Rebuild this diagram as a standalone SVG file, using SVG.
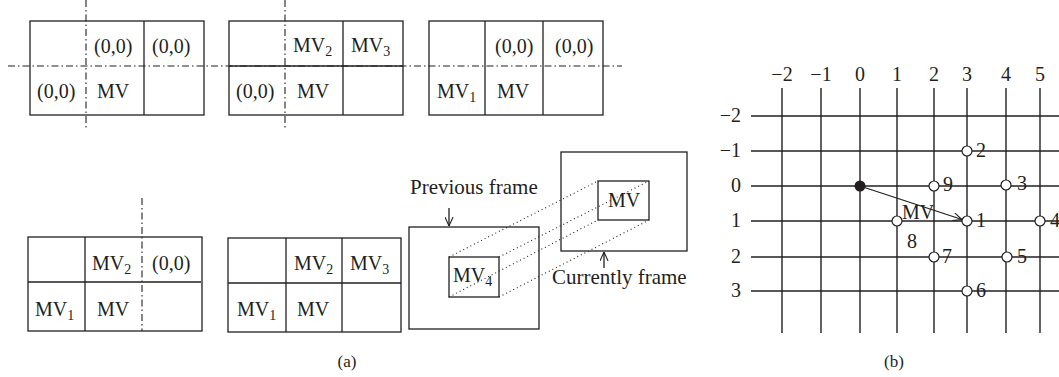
<svg xmlns="http://www.w3.org/2000/svg" width="1059" height="377" viewBox="0 0 1059 377">
<style>
.t{font-family:"Liberation Serif","Times New Roman",serif;font-size:20px;fill:#231f20}
.s{font-size:14px}
.f{font-size:21px}
.c{font-size:17px}
.ln{stroke:#231f20;stroke-width:1.3;fill:none}
.g{stroke:#231f20;stroke-width:1.4;fill:none}
.dd{stroke:#231f20;stroke-width:1.1;fill:none;stroke-dasharray:7 3 1.5 3}
.dot{stroke:#231f20;stroke-width:1.1;fill:none;stroke-dasharray:1 3}
.pt{fill:#fff;stroke:#231f20;stroke-width:1.2}
</style>
<defs>
<marker id="ah" viewBox="0 0 10 10" refX="10" refY="5" markerWidth="9" markerHeight="9" markerUnits="userSpaceOnUse" orient="auto">
<path d="M0,0.5 L10,5 L0,9.5" fill="none" stroke="#231f20" stroke-width="1.2"/>
</marker>
</defs>
<rect width="1059" height="377" fill="#fff"/>

<g id="guides">
<line class="dd" x1="8" y1="66" x2="622" y2="66"/>
<line class="dd" x1="86" y1="0" x2="86" y2="130"/>
<line class="dd" x1="285" y1="0" x2="285" y2="130"/>
<line class="dd" x1="142" y1="198" x2="142" y2="331"/>
</g>

<g id="table1">
<rect class="ln" x="30" y="21" width="174" height="94"/>
<line class="ln" x1="144" y1="21" x2="144" y2="115"/>
<text class="t" x="94" y="53">(0,0)</text>
<text class="t" x="152" y="53">(0,0)</text>
<text class="t" x="37" y="98">(0,0)</text>
<text class="t" x="97" y="98">MV</text>
</g>

<g id="table2">
<rect class="ln" x="229" y="21" width="174" height="94"/>
<line class="ln" x1="229" y1="66" x2="403" y2="66"/>
<line class="ln" x1="343" y1="21" x2="343" y2="115"/>
<text class="t" x="293" y="52">MV<tspan class="s" dy="4">2</tspan></text>
<text class="t" x="351" y="52">MV<tspan class="s" dy="4">3</tspan></text>
<text class="t" x="236" y="98">(0,0)</text>
<text class="t" x="297" y="98">MV</text>
</g>

<g id="table3">
<rect class="ln" x="429" y="21" width="174" height="94"/>
<line class="ln" x1="485" y1="21" x2="485" y2="115"/>
<line class="ln" x1="543" y1="21" x2="543" y2="115"/>
<text class="t" x="495" y="53">(0,0)</text>
<text class="t" x="555" y="53">(0,0)</text>
<text class="t" x="437" y="98">MV<tspan class="s" dy="4">1</tspan></text>
<text class="t" x="497" y="98">MV</text>
</g>

<g id="table4">
<rect class="ln" x="28" y="237" width="174" height="94"/>
<line class="ln" x1="28" y1="282" x2="201" y2="282"/>
<line class="ln" x1="85" y1="237" x2="85" y2="331"/>
<text class="t" x="92" y="270">MV<tspan class="s" dy="4">2</tspan></text>
<text class="t" x="152" y="270">(0,0)</text>
<text class="t" x="35" y="316">MV<tspan class="s" dy="4">1</tspan></text>
<text class="t" x="97" y="316">MV</text>
</g>

<g id="table5">
<rect class="ln" x="228" y="238" width="173" height="94"/>
<line class="ln" x1="228" y1="283" x2="401" y2="283"/>
<line class="ln" x1="286" y1="238" x2="286" y2="332"/>
<line class="ln" x1="342" y1="238" x2="342" y2="332"/>
<text class="t" x="294" y="270">MV<tspan class="s" dy="4">2</tspan></text>
<text class="t" x="350" y="270">MV<tspan class="s" dy="4">3</tspan></text>
<text class="t" x="237" y="316">MV<tspan class="s" dy="4">1</tspan></text>
<text class="t" x="297" y="316">MV</text>
</g>

<g id="previous-frame">
<rect class="ln" x="409" y="227" width="130" height="102"/>
<rect class="ln" x="449" y="257" width="50" height="40"/>
<text class="t" x="453" y="282">MV<tspan class="s" dy="4">4</tspan></text>
<text class="t f" x="410" y="194">Previous frame</text>
</g>

<g id="current-frame">
<rect class="ln" x="561" y="152" width="126" height="99"/>
<rect class="ln" x="598" y="181" width="51" height="39"/>
<text class="t" x="608" y="207">MV</text>
<text class="t f" x="552" y="284">Currently frame</text>
</g>

<g id="grid">
<g class="g">
<line x1="782" y1="88" x2="782" y2="333"/>
<line x1="821" y1="88" x2="821" y2="333"/>
<line x1="860" y1="88" x2="860" y2="333"/>
<line x1="897" y1="88" x2="897" y2="333"/>
<line x1="934" y1="88" x2="934" y2="333"/>
<line x1="967" y1="88" x2="967" y2="333"/>
<line x1="1006" y1="88" x2="1006" y2="333"/>
<line x1="1040" y1="88" x2="1040" y2="333"/>
<line x1="751" y1="116" x2="1059" y2="116"/>
<line x1="751" y1="151" x2="1059" y2="151"/>
<line x1="751" y1="186" x2="1059" y2="186"/>
<line x1="751" y1="221" x2="1059" y2="221"/>
<line x1="751" y1="257" x2="1059" y2="257"/>
<line x1="751" y1="291" x2="1059" y2="291"/>
</g>
<g class="t" text-anchor="middle">
<text x="782" y="81">−2</text>
<text x="821" y="81">−1</text>
<text x="860" y="81">0</text>
<text x="897" y="81">1</text>
<text x="934" y="81">2</text>
<text x="967" y="81">3</text>
<text x="1006" y="81">4</text>
<text x="1040" y="81">5</text>
</g>
<g class="t" text-anchor="end">
<text x="741" y="122">−2</text>
<text x="741" y="157">−1</text>
<text x="741" y="192">0</text>
<text x="741" y="227">1</text>
<text x="741" y="263">2</text>
<text x="741" y="297">3</text>
</g>
</g>

<g id="connectors">
<line class="ln" x1="449" y1="208" x2="449" y2="226" marker-end="url(#ah)"/>
<line class="ln" x1="604" y1="268" x2="604" y2="252" marker-end="url(#ah)"/>
<line class="dot" x1="449" y1="257" x2="598" y2="181"/>
<line class="dot" x1="499" y1="257" x2="649" y2="181"/>
<line class="dot" x1="449" y1="297" x2="598" y2="220"/>
<line class="dot" x1="499" y1="297" x2="649" y2="220"/>
<line class="ln" x1="860" y1="186" x2="962" y2="219.5" marker-end="url(#ah)"/>
</g>

<g id="points">
<circle cx="860" cy="186" r="5.5" fill="#231f20"/>
<circle class="pt" cx="967" cy="151" r="5"/>
<circle class="pt" cx="934" cy="186" r="5"/>
<circle class="pt" cx="1006" cy="185" r="5"/>
<circle class="pt" cx="967" cy="221" r="5"/>
<circle class="pt" cx="1040" cy="221" r="5"/>
<circle class="pt" cx="897" cy="221" r="5"/>
<circle class="pt" cx="934" cy="257" r="5"/>
<circle class="pt" cx="1007" cy="257" r="5"/>
<circle class="pt" cx="967" cy="291" r="5"/>
<g class="t">
<text x="976" y="157">2</text>
<text x="943" y="191">9</text>
<text x="1017" y="190">3</text>
<text x="976" y="227">1</text>
<text x="1050" y="227">4</text>
<text x="907" y="248">8</text>
<text x="942" y="263">7</text>
<text x="1017" y="263">5</text>
<text x="976" y="297">6</text>
<text x="902" y="219">MV</text>
</g>
</g>

<g id="captions">
<text class="t c" x="347" y="367" text-anchor="middle">(a)</text>
<text class="t c" x="894" y="367" text-anchor="middle">(b)</text>
</g>
</svg>
